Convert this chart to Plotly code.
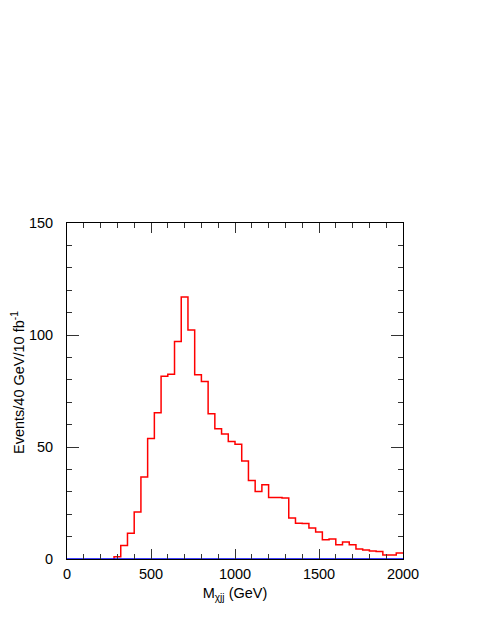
import plotly.graph_objects as go

# lower edges of the 40 GeV bins (GeV) and events per bin
bin_lo = [280, 320, 360, 400, 440, 480, 520, 560, 600, 640,
          680, 720, 760, 800, 840, 880, 920, 960, 1000, 1040,
          1080, 1120, 1160, 1200, 1240, 1280, 1320, 1360, 1400, 1440,
          1480, 1520, 1560, 1600, 1640, 1680, 1720, 1760, 1800, 1840,
          1880, 1920, 1960]
events = [1.0, 6.0, 11.5, 21.0, 36.6, 53.8, 65.3, 81.6, 82.5, 97.1,
          117.0, 102.2, 82.2, 79.2, 64.8, 58.2, 55.8, 52.4, 51.2, 43.7,
          35.1, 30.1, 33.2, 27.4, 27.5, 27.2, 18.3, 16.0, 15.8, 13.8,
          12.0, 8.6, 8.9, 6.4, 7.6, 6.4, 4.5, 4.0, 3.6, 3.3,
          1.8, 1.8, 2.7]
bin_width = 40
base_x = [0, 2000]
base_y = [0, 0]

step_x = [bin_lo[0]] + bin_lo + [bin_lo[-1] + bin_width]
step_y = [0] + events + [events[-1]]

fig = go.Figure()
fig.add_trace(go.Scatter(x=step_x, y=step_y, mode='lines', line_shape='hv',
                         line=dict(color='#ff0000', width=1.5), hoverinfo='skip'))
fig.add_trace(go.Scatter(x=base_x, y=base_y, mode='lines',
                         line=dict(color='#0000ff', width=1.5), hoverinfo='skip', cliponaxis=False))

axis_font = dict(family='Liberation Sans, Arial, sans-serif', size=14.5, color='black')

fig.update_layout(
    width=485, height=627,
    margin=dict(l=59, r=90, t=215, b=76),
    paper_bgcolor='white', plot_bgcolor='white',
    showlegend=False,
    font=axis_font,
    xaxis=dict(range=[0, 2000], dtick=500, tick0=0, ticks='inside', ticklen=10, tickwidth=1,
               tickcolor='#333333', minor=dict(dtick=100, ticklen=5, tickwidth=1, tickcolor='#333333', ticks='inside'),
               showline=True, linecolor='black', linewidth=1, mirror='allticks', showgrid=False,
               zeroline=False, tickfont=axis_font, ticklabelstandoff=2,
               title=dict(text='M<sub>χjj</sub> (GeV)', font=axis_font, standoff=6)),
    yaxis=dict(range=[0, 150], dtick=50, tick0=0, ticks='inside', ticklen=12, tickwidth=1,
               tickcolor='#333333', minor=dict(dtick=10, ticklen=5, tickwidth=1, tickcolor='#333333', ticks='inside'),
               showline=True, linecolor='black', linewidth=1, mirror='allticks', showgrid=False,
               zeroline=False, tickfont=axis_font, ticklabelstandoff=10),
    annotations=[dict(text='Events/40 GeV/10 fb<sup>-1</sup>', textangle=-90, showarrow=False,
                      xref='paper', yref='paper', x=0, y=0.5, xanchor='center', yanchor='middle',
                      xshift=-49, yshift=8, font=axis_font)],
)

fig.write_html("out.html")
